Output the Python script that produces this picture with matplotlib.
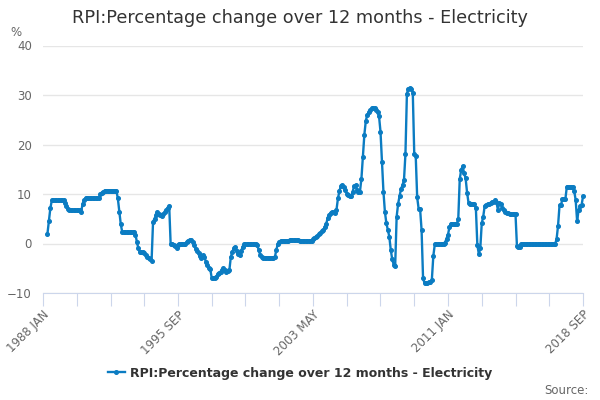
import numpy as np
import matplotlib
matplotlib.use("Agg")
import matplotlib.pyplot as plt

# monthly values, 1988 JAN .. 2018 SEP (first three months missing)
month_names = ["JAN", "FEB", "MAR", "APR", "MAY", "JUN",
               "JUL", "AUG", "SEP", "OCT", "NOV", "DEC"]
start_year = 1988

y1988 = [np.nan, np.nan, np.nan, 1.9, 4.6, 7.1, 8.7, 8.7, 8.7, 8.7, 8.7, 8.7]
y1989 = [8.7, 8.7, 8.7, 8.2, 7.5, 6.9, 6.7, 6.7, 6.7, 6.7, 6.7, 6.7]
y1990 = [6.7, 6.7, 6.4, 8.0, 8.8, 9.2, 9.2, 9.2, 9.2, 9.2, 9.2, 9.2]
y1991 = [9.2, 9.2, 9.2, 9.9, 10.2, 10.4, 10.7, 10.7, 10.7, 10.7, 10.7, 10.7]
y1992 = [10.7, 10.7, 10.7, 9.1, 6.4, 3.9, 2.3, 2.3, 2.3, 2.3, 2.3, 2.3]
y1993 = [2.3, 2.3, 2.3, 1.8, 0.3, -1.0, -1.8, -1.8, -1.8, -2.0, -2.3, -2.7]
y1994 = [-2.9, -3.2, -3.5, 4.4, 5.0, 5.7, 6.4, 6.0, 5.7, 5.6, 6.0, 6.3]
y1995 = [6.8, 7.2, 7.6, -0.2, 0.0, -0.3, -0.6, -0.9, -0.4, 0.0, -0.2, -0.2]
y1996 = [-0.1, 0.0, 0.3, 0.6, 0.8, 0.8, 0.3, -0.4, -1.1, -1.6, -2.0, -2.6]
y1997 = [-3.0, -2.4, -2.7, -3.7, -4.3, -4.9, -5.2, -7.0, -6.9, -6.9, -6.7, -6.2]
y1998 = [-6.0, -5.7, -5.3, -5.0, -5.3, -5.7, -5.6, -5.4, -2.7, -1.7, -1.0, -0.7]
y1999 = [-1.5, -2.2, -2.4, -1.6, -0.7, -0.2, -0.2, -0.2, -0.2, -0.2, -0.2, -0.2]
y2000 = [-0.2, -0.2, -0.3, -1.3, -2.3, -2.8, -2.9, -2.9, -2.9, -2.9, -2.9, -2.9]
y2001 = [-2.9, -2.9, -2.8, -1.3, -0.1, 0.3, 0.5, 0.6, 0.6, 0.6, 0.6, 0.6]
y2002 = [0.7, 0.7, 0.7, 0.7, 0.7, 0.7, 0.7, 0.6, 0.6, 0.5, 0.5, 0.5]
y2003 = [0.5, 0.5, 0.5, 0.6, 0.9, 1.1, 1.4, 1.6, 1.9, 2.2, 2.5, 2.7]
y2004 = [3.3, 4.0, 5.1, 5.8, 6.2, 6.3, 6.3, 6.1, 6.8, 9.1, 10.6, 11.6]
y2005 = [11.8, 11.4, 10.8, 10.1, 9.7, 9.5, 9.6, 10.4, 11.6, 11.8, 10.8, 10.4]
y2006 = [10.5, 13.1, 17.5, 22.0, 24.8, 26.0, 26.5, 27.0, 27.3, 27.4, 27.3, 27.0]
y2007 = [26.6, 25.7, 22.6, 16.5, 10.5, 6.4, 4.1, 2.8, 1.4, -1.3, -3.2, -4.3]
y2008 = [-4.5, 5.4, 8.0, 9.6, 11.0, 11.8, 12.8, 18.1, 30.3, 31.3, 31.4, 31.3]
y2009 = [30.5, 18.1, 17.7, 9.3, 7.0, 6.9, 2.7, -7.0, -8.0, -8.0, -7.9, -7.8]
y2010 = [-7.7, -7.3, -2.5, -0.2, -0.2, -0.2, -0.2, -0.2, -0.2, -0.2, 0.2, 1.0]
y2011 = [1.8, 3.3, 4.0, 4.0, 4.0, 4.0, 4.0, 5.0, 13.0, 14.9, 15.6, 14.2]
y2012 = [13.2, 10.3, 8.2, 8.0, 8.0, 8.0, 7.9, 7.1, -0.3, -2.1, -1.0, 4.1]
y2013 = [5.4, 7.6, 7.8, 7.9, 8.0, 8.1, 8.4, 8.4, 8.7, 8.4, 6.8, 8.2]
y2014 = [8.0, 7.2, 6.7, 6.3, 6.2, 6.1, 6.0, 5.9, 5.9, 5.9, 5.9, -0.6]
y2015 = [-0.7, -0.7, -0.2, 0.0, -0.1, -0.1, -0.1, -0.1, -0.1, -0.1, -0.1, -0.1]
y2016 = [-0.1, -0.1, -0.1, -0.1, -0.1, -0.1, -0.1, -0.1, -0.1, -0.1, -0.1, -0.1]
y2017 = [-0.1, -0.1, 0.9, 3.6, 7.7, 7.8, 9.0, 9.0, 9.0, 11.5, 11.5, 11.5]
y2018 = [11.5, 11.5, 10.6, 8.8, 4.5, 6.8, 7.5, 7.7, 9.5]

series_name = "RPI:Percentage change over 12 months - Electricity"

values = np.array(y1988 + y1989 + y1990 + y1991 + y1992 + y1993 + y1994 +
                  y1995 + y1996 + y1997 + y1998 + y1999 + y2000 + y2001 +
                  y2002 + y2003 + y2004 + y2005 + y2006 + y2007 + y2008 +
                  y2009 + y2010 + y2011 + y2012 + y2013 + y2014 + y2015 +
                  y2016 + y2017 + y2018, dtype=float)
x = np.arange(len(values))
labels = ["%d %s" % (start_year + i // 12, month_names[i % 12]) for i in x]

blue = "#0b7cc2"
grey = "#666666"

fig = plt.figure(figsize=(6, 4), dpi=100)
ax = fig.add_axes([43 / 600, 1 - 293 / 400, 540 / 600, 247.5 / 400])

ax.plot(x, values, color=blue, lw=1.7, marker="o", ms=2.6, label=series_name,
        clip_on=False, zorder=3)

ax.set_xlim(0, len(values) - 1)
ax.set_ylim(-10, 40)
ax.set_yticks(range(-10, 41, 10))
ax.yaxis.grid(True, color="#e6e6e6", lw=1)
ax.set_axisbelow(True)

ticks = list(range(0, len(values), 23))
ax.set_xticks(ticks)
ax.set_xticklabels([labels[t] if k % 4 == 0 else "" for k, t in enumerate(ticks)],
                   rotation=45, ha="right", rotation_mode="anchor")

for s in ["top", "right", "left"]:
    ax.spines[s].set_visible(False)
ax.spines["bottom"].set_color("#ccd6eb")
ax.tick_params(axis="y", length=0, labelcolor=grey, labelsize=8.5, pad=8)
ax.tick_params(axis="x", length=9, color="#ccd6eb", labelcolor=grey, labelsize=8.5, pad=2)

fig.text(0.5, 1 - 18 / 400, series_name, ha="center", va="center",
         fontsize=12.7, color="#333333")
fig.text(10 / 600, 1 - 32 / 400, "%", ha="left", va="center", fontsize=8.5, color=grey)
fig.text(589 / 600, 1 - 390 / 400, "Source:", ha="right", va="center", fontsize=8.5, color=grey)

fig.legend(loc="center", bbox_to_anchor=(0.5, 1 - 373 / 400), frameon=False,
           prop={"weight": "bold", "size": 9}, handlelength=1.3, handletextpad=0.4,
           labelcolor="#333333")

fig.savefig("out.png", dpi=100)
